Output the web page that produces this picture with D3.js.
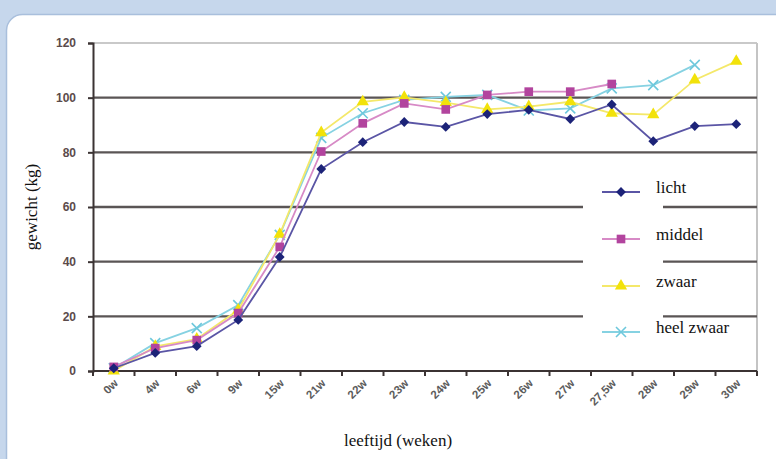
<!DOCTYPE html>
<html><head><meta charset="utf-8">
<script src="https://cdn.jsdelivr.net/npm/d3@7"></script>
<style>
html,body{margin:0;padding:0;background:#c6d7ec;}svg{display:block;}
.serif{font-family:"Liberation Serif","DejaVu Serif",serif;}
.sans{font-family:"Liberation Sans",Arial,sans-serif;}
</style>
</head><body>
<script>
const categories = ["0w","4w","6w","9w","15w","21w","22w","23w","24w","25w","26w","27w","27,5w","28w","29w","30w"];
const licht     = [1, 6.6, 9.1, 18.7, 41.7, 73.9, 83.7, 91.1, 89.3, 94, 95.5, 92.2, 97.5, 84.1, 89.6, 90.3];
const middel    = [1.5, 8.4, 11.3, 21.2, 45.4, 80.3, 90.6, 97.9, 95.7, 101, 102.2, 102.2, 105, null, null, null];
const zwaar     = [0, 9, 11.7, 22.3, 50, 87.2, 98.5, 100.1, 98.2, 95.7, 96.7, 98.5, 94.3, 93.8, 106.5, 113.3];
const heelZwaar = [1, 10.2, 15.7, 24.1, 49.8, 85.3, 94.3, 99.2, 100.3, 101, 95.3, 96.1, 103.4, 104.6, 112, null];
const yTicks = [0, 20, 40, 60, 80, 100, 120];
const seriesNames = ["licht","middel","zwaar","heel zwaar"];

const W = 776, H = 459;
const svg = d3.select("body").append("svg").attr("width", W).attr("height", H);

// panel
svg.append("rect").attr("x", 0).attr("y", 0).attr("width", W).attr("height", H).attr("fill", "#c6d7ec");
svg.append("rect").attr("x", 6.5).attr("y", 14.5).attr("width", 790).attr("height", 460)
  .attr("rx", 16).attr("fill", "#ffffff").attr("stroke", "#a9bfdc").attr("stroke-width", 1.5);

const x = d3.scaleBand().domain(categories).range([93, 757]);
const y = d3.scaleLinear().domain([0, 120]).range([371, 43]);
const cx = c => x(c) + x.bandwidth() / 2;

// plot border (top & right)
svg.append("line").attr("x1", 93).attr("x2", 757).attr("y1", y(120)).attr("y2", y(120))
  .attr("stroke", "#c9c9c9").attr("stroke-width", 2);
svg.append("line").attr("x1", 757).attr("x2", 757).attr("y1", y(120)).attr("y2", y(0))
  .attr("stroke", "#c4c4c4").attr("stroke-width", 2);

// gridlines
svg.append("g").selectAll("line").data(yTicks.filter(v => v > 0 && v < 120)).join("line")
  .attr("x1", 93).attr("x2", 757).attr("y1", d => y(d)).attr("y2", d => y(d))
  .attr("stroke", "#5a5555").attr("stroke-width", 2.4);

// legend background occluding gridlines
svg.append("rect").attr("x", 583).attr("y", 168).attr("width", 80).attr("height", 180).attr("fill", "#fff");

// axes
const yAxis = d3.axisLeft(y).tickValues(yTicks).tickSize(5).tickPadding(12);
const gy = svg.append("g").attr("transform", "translate(93,0)").call(yAxis).attr("font-family", null);
gy.select(".domain").attr("stroke", "#3b3333").attr("stroke-width", 2);
gy.selectAll(".tick line").attr("stroke", "#3b3333").attr("stroke-width", 2);
gy.selectAll(".tick text").attr("class", "sans").attr("fill", "#5b4b4b")
  .attr("font-size", 12).attr("font-weight", "bold");

const gx = svg.append("g").attr("transform", "translate(0,371)")
  .call(d3.axisBottom(x).tickSize(0).tickFormat(d => d)).attr("font-family", null);
gx.select(".domain").attr("stroke", "#3b3333").attr("stroke-width", 2).attr("d", "M93,0H757");
gx.selectAll(".tick text").attr("class", "sans")
  .attr("fill", "#5c5c5c")
  .attr("font-size", 11.5).attr("font-weight", "bold")
  .attr("text-anchor", "end").attr("dy", 0).attr("y", 0)
  .attr("transform", "translate(5,13) rotate(-45)");
// x tick marks at band boundaries
svg.append("g").selectAll("line").data(categories.map((c, i) => i).concat([categories.length])).join("line")
  .attr("x1", i => 93 + i * x.bandwidth()).attr("x2", i => 93 + i * x.bandwidth())
  .attr("y1", 371).attr("y2", 376).attr("stroke", "#3b3333").attr("stroke-width", 2);

// axis titles
svg.append("text").attr("class", "serif").attr("transform", "translate(37,207) rotate(-90)").attr("text-anchor", "middle")
  .attr("font-size", 17).attr("fill", "#111")
  .text("gewicht (kg)");
svg.append("text").attr("class", "serif").attr("x", 398).attr("y", 446).attr("text-anchor", "middle")
  .attr("font-size", 17).attr("fill", "#111")
  .text("leeftijd (weken)");

// series
const styles = [
  {name: "licht", data: licht, line: "#5a55a5", fill: "#1c2378", sym: "diamond"},
  {name: "middel", data: middel, line: "#d78ac6", fill: "#b2449e", sym: "square"},
  {name: "zwaar", data: zwaar, line: "#f4e86a", fill: "#f2e20a", sym: "triangle"},
  {name: "heel zwaar", data: heelZwaar, line: "#86d2e2", fill: "#6ec8dc", sym: "x"}
];
function marker(g, s) {
  if (s.sym === "diamond") g.append("path").attr("d", d3.symbol(d3.symbolSquare, 48)()).attr("transform", "rotate(45)").attr("fill", s.fill);
  else if (s.sym === "square") g.append("path").attr("d", d3.symbol(d3.symbolSquare, 75)()).attr("fill", s.fill);
  else if (s.sym === "triangle") g.append("path").attr("d", d3.symbol(d3.symbolTriangle, 65)()).attr("fill", s.fill);
  else g.append("path").attr("d", "M-5,-5L5,5M-5,5L5,-5").attr("stroke", s.fill).attr("stroke-width", 1.6).attr("fill", "none");
}
const line = d3.line().defined(d => d.v != null).x(d => cx(d.c)).y(d => y(d.v));
[3, 2, 1, 0].forEach(i => {
  const s = styles[i];
  const pts = categories.map((c, j) => ({c, v: s.data[j]}));
  svg.append("path").datum(pts).attr("d", line).attr("fill", "none").attr("stroke", s.line).attr("stroke-width", 1.8);
  pts.filter(d => d.v != null).forEach(d => {
    const g = svg.append("g").attr("transform", `translate(${cx(d.c)},${y(d.v)})`);
    marker(g, s);
  });
});

// legend
const legY = [192, 239, 286, 332];
styles.forEach((s, i) => {
  svg.append("line").attr("x1", 602).attr("x2", 640).attr("y1", legY[i]).attr("y2", legY[i])
    .attr("stroke", s.line).attr("stroke-width", 1.8);
  const g = svg.append("g").attr("transform", `translate(621,${legY[i]})`);
  marker(g, s);
  svg.append("text").attr("class", "serif").attr("x", 656).attr("y", legY[i] + 1)
    .attr("font-size", 17).attr("fill", "#111").text(seriesNames[i]);
});
</script>
</body></html>
